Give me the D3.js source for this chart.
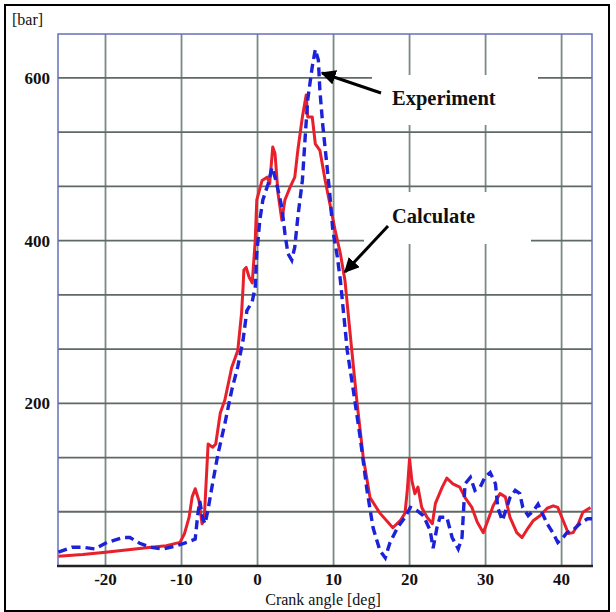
<!DOCTYPE html>
<html>
<head>
<meta charset="utf-8">
<script src="https://cdn.jsdelivr.net/npm/d3@7"></script>
<style>
    body { margin: 0; background: #fff; }
    svg text { font-family: "Liberation Serif", "Times New Roman", serif; fill: #111; }
    .tick-label { font-weight: bold; font-size: 17px; }
    .graph-label { font-size: 16px; }
    .note { font-weight: bold; font-size: 20.5px; }
</style>
</head>
<body>
<svg width="616" height="612"></svg>
<script>
// Calculate (red, solid): crank angle [deg] and pressure [bar]
let calcAngle = [-26.2, -23, -20, -17, -14, -12, -10.2, -9.6, -9.0, -8.6, -8.2, -7.7, -7.3, -7.0, -6.5, -5.9, -5.5,
    -4.9, -4.3, -3.4, -2.6, -2.1, -1.9, -1.8, -1.5, -1.1, -0.7, -0.3, -0.1, 0.6, 1.25, 1.6, 2.0, 2.3, 2.7, 3.2, 3.6,
    4.3, 4.9, 5.3, 5.9, 6.4, 6.6, 7.2, 7.6, 8.2, 8.9, 9.5, 10.2, 10.9, 11.5, 12.4, 13.1, 13.9, 14.8, 16.1, 17.8,
    18.8, 19.4, 19.7, 20.0, 20.3, 20.7, 21.1, 21.6, 22.3, 23.0, 23.4, 24.3, 24.9, 25.7, 26.6, 27.3, 28.2, 28.9,
    29.7, 30.3, 31.0, 31.9, 32.6, 33.2, 34.1, 34.8, 35.4, 36.3, 37.2, 38.1, 38.9, 39.5, 40.2, 40.9, 41.5, 42.2,
    42.8, 43.8]
let calcBar = [12, 14, 17, 20, 23, 25, 29, 40, 60, 85, 95, 80, 52, 60, 150, 146, 150,
    188, 204, 244, 265, 311, 343, 364, 367, 355, 348, 400, 450, 474, 478, 470, 515, 507, 458, 425, 450,
    466, 478, 511, 552, 579, 552, 552, 519, 511, 474, 446, 413, 384, 351, 265, 200, 134, 84, 65, 47,
    56, 65, 93, 132, 105, 89, 97, 72, 60, 52, 77, 97, 108, 101, 97, 84, 72, 54,
    41, 56, 74, 89, 85, 60, 41, 35, 44, 56, 62, 71, 74, 72, 56, 40, 41, 52,
    66, 72]

// Experiment (blue, dashed)
let expAngle = [-26.2, -24.4, -23.0, -21.4, -19.8, -17.7, -16.8, -15.5, -14.1, -12.4, -10.6, -9.3, -8.2, -7.9,
    -7.6, -7.2, -6.9, -6.5, -6.0, -5.2, -4.3, -3.4, -2.6, -1.9, -1.4, -0.7, -0.3, -0.1, 0.3, 0.7, 1.4, 1.9, 2.3,
    2.7, 3.2, 3.6, 4.0, 4.5, 4.9, 5.3, 5.9, 6.3, 6.6, 7.2, 7.6, 8.0, 8.2, 8.6, 9.1, 9.5, 9.9, 10.5, 10.9, 11.8,
    12.6, 13.5, 14.4, 15.2, 16.1, 16.8, 17.4, 18.4, 19.4, 20.1, 21.0, 21.8, 22.7, 23.1, 23.6, 24.0, 24.9, 25.6,
    26.4, 26.9, 27.3, 28.0, 28.6, 29.3, 29.9, 30.6, 31.3, 31.6, 32.2, 32.8, 33.2, 33.9, 34.5, 34.9, 35.6, 36.3,
    36.9, 37.6, 38.1, 38.9, 39.5, 40.2, 40.7, 41.5, 42.4, 43.4, 44.0]
let expBar = [17, 23, 23, 21, 29, 35, 35, 28, 23, 21, 25, 29, 33, 60,
    80, 58, 52, 70, 97, 138, 175, 216, 245, 278, 314, 325, 343, 384, 425, 450, 470, 490, 478,
    462, 441, 409, 384, 376, 392, 429, 474, 532, 573, 614, 635, 622, 585, 540, 495, 458, 413, 380, 351, 265,
    216, 158, 93, 47, 19, 10, 28, 47, 60, 72, 68, 62, 44, 22, 47, 60, 60, 35,
    21, 35, 101, 109, 93, 97, 109, 115, 101, 72, 56, 72, 84, 93, 89, 72, 62, 68,
    76, 62, 52, 40, 29, 35, 41, 44, 52, 58, 58]

let xTicks = [-20, -10, 0, 10, 20, 30, 40]
let yTicks = [200, 400, 600]
let yGrid = [66.7, 133.3, 200, 266.7, 333.3, 400, 466.7, 533.3, 600]

let calculate = calcAngle.map((a, i) => ({ x: a, y: calcBar[i] }))
let experiment = expAngle.map((a, i) => ({ x: a, y: expBar[i] }))

let svg = d3.select('svg')

let plot = { left: 58, right: 592, top: 34, bottom: 566 }

let scale = {
    x: d3.scaleLinear().domain([-26.25, 44.0]).range([plot.left, plot.right]),
    y: d3.scaleLinear().domain([0, 654]).range([plot.bottom, plot.top])
}

// outer frame
svg.append('rect')
    .attr('x', 5).attr('y', 5)
    .attr('width', 604).attr('height', 606)
    .attr('fill', 'none')
    .attr('stroke', '#000')
    .attr('stroke-width', 2)

// grid
let grid = svg.append('g')
grid.selectAll('.vgrid')
    .data(xTicks)
    .enter()
    .append('line')
    .attr('x1', d => scale.x(d)).attr('x2', d => scale.x(d))
    .attr('y1', plot.top).attr('y2', plot.bottom)
    .attr('stroke', '#7a8a86')
    .attr('stroke-width', 1.8)

grid.selectAll('.hgrid')
    .data(yGrid)
    .enter()
    .append('line')
    .attr('x1', plot.left).attr('x2', plot.right)
    .attr('y1', d => scale.y(d)).attr('y2', d => scale.y(d))
    .attr('stroke', '#5f6966')
    .attr('stroke-width', 1.8)

// white boxes behind the notes
svg.append('rect')
    .attr('x', 372).attr('y', 75).attr('width', 166).attr('height', 50)
    .attr('fill', '#fff')
svg.append('rect')
    .attr('x', 364).attr('y', 192).attr('width', 167).attr('height', 52)
    .attr('fill', '#fff')

// plot border
svg.append('path')
    .attr('d', `M${plot.left},${plot.bottom}V${plot.top}H${plot.right}V${plot.bottom}`)
    .attr('fill', 'none')
    .attr('stroke', '#6670bb')
    .attr('stroke-width', 1.5)

let line = d3.line().x(d => scale.x(d.x)).y(d => scale.y(d.y))

svg.append('path')
    .datum(calculate)
    .attr('d', line)
    .attr('fill', 'none')
    .attr('stroke', '#e8202c')
    .attr('stroke-width', 3)
    .attr('stroke-linejoin', 'round')

svg.append('path')
    .datum(experiment)
    .attr('d', line)
    .attr('fill', 'none')
    .attr('stroke', '#1c22d8')
    .attr('stroke-width', 3.4)
    .attr('stroke-dasharray', '9,5')

// X axis line
svg.append('line')
    .attr('x1', plot.left - 1).attr('x2', plot.right + 1)
    .attr('y1', plot.bottom).attr('y2', plot.bottom)
    .attr('stroke', '#222')
    .attr('stroke-width', 2.5)

// tick labels
svg.selectAll('.xlab')
    .data(xTicks)
    .enter()
    .append('text')
    .attr('class', 'tick-label')
    .attr('x', d => scale.x(d))
    .attr('y', 585)
    .attr('text-anchor', 'middle')
    .text(d => d)

svg.selectAll('.ylab')
    .data(yTicks)
    .enter()
    .append('text')
    .attr('class', 'tick-label')
    .attr('x', 50)
    .attr('y', d => scale.y(d) + 6)
    .attr('text-anchor', 'end')
    .text(d => d)

// axis labels
svg.append('text')
    .attr('x', 12).attr('y', 25)
    .attr('class', 'graph-label')
    .text('[bar]')

svg.append('text')
    .attr('x', 323).attr('y', 605)
    .attr('text-anchor', 'middle')
    .attr('class', 'graph-label')
    .text('Crank angle [deg]')

// notes and arrows
svg.append('defs').append('marker')
    .attr('id', 'head')
    .attr('viewBox', '0 0 10 10')
    .attr('refX', 9).attr('refY', 5)
    .attr('markerWidth', 5).attr('markerHeight', 5)
    .attr('orient', 'auto')
    .append('path')
    .attr('d', 'M0,0L10,5L0,10z')
    .attr('fill', '#000')

svg.append('line')
    .attr('x1', 381).attr('y1', 93).attr('x2', 322).attr('y2', 73)
    .attr('stroke', '#000').attr('stroke-width', 3)
    .attr('marker-end', 'url(#head)')

svg.append('line')
    .attr('x1', 388).attr('y1', 226).attr('x2', 345).attr('y2', 272)
    .attr('stroke', '#000').attr('stroke-width', 3)
    .attr('marker-end', 'url(#head)')

svg.append('text')
    .attr('class', 'note')
    .attr('x', 392).attr('y', 105)
    .text('Experiment')

svg.append('text')
    .attr('class', 'note')
    .attr('x', 392).attr('y', 223)
    .text('Calculate')
</script>
</body>
</html>
